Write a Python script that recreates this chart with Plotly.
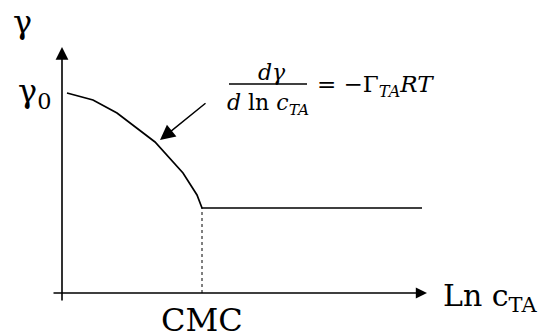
import plotly.graph_objects as go

# surface tension vs ln c (arbitrary units)
curve_lnc = [0.25, 1.55, 2.75, 4.65, 6.05, 6.75, 7.0, 18.0]
curve_gamma = [10.0, 9.65, 9.0, 7.55, 6.0, 4.9, 4.25, 4.25]
cmc_lnc = 7.0
cmc_gamma = 4.25
gamma0 = 10.0

x_axis_end = 18.25
y_axis_end = 12.3

SERIF = "DejaVu Serif"

fig = go.Figure()

# main curve: falling part then plateau after CMC
fig.add_trace(go.Scatter(
    x=curve_lnc, y=curve_gamma, mode="lines",
    line=dict(color="black", width=1.7), showlegend=False, hoverinfo="skip"))

# dotted drop line at the CMC
fig.add_trace(go.Scatter(
    x=[cmc_lnc, cmc_lnc], y=[0, cmc_gamma], mode="lines",
    line=dict(color="black", width=1, dash="dot"), showlegend=False, hoverinfo="skip"))

# axes drawn as arrows
fig.add_annotation(x=0, y=y_axis_end, ax=0, ay=-0.45, xref="x", yref="y",
                   axref="x", ayref="y", showarrow=True, arrowhead=2,
                   arrowwidth=1.6, arrowsize=1.6, arrowcolor="black", text="")
fig.add_annotation(x=x_axis_end, y=0, ax=-0.5, ay=0, xref="x", yref="y",
                   axref="x", ayref="y", showarrow=True, arrowhead=2,
                   arrowwidth=1.6, arrowsize=1.4, arrowcolor="black", text="")

# pointer to the slope
fig.add_annotation(x=4.9, y=7.65, ax=7.25, ay=9.55, xref="x", yref="y",
                   axref="x", ayref="y", showarrow=True, arrowhead=2,
                   arrowwidth=1.5, arrowsize=2.0, arrowcolor="black", text="")

# labels
big = dict(family=SERIF, size=32, color="black")
fig.add_annotation(x=-2.0, y=13.55, text="γ", showarrow=False, font=big,
                   xanchor="center", yanchor="middle")
fig.add_annotation(x=-0.45, y=gamma0, text="γ<sub>0</sub>", showarrow=False,
                   font=big, xanchor="right", yanchor="middle")
fig.add_annotation(x=cmc_lnc, y=-0.3, text="CMC", showarrow=False, font=big,
                   xanchor="center", yanchor="top")
fig.add_annotation(x=18.95, y=-0.2, text="Ln c<sub>TA</sub>", showarrow=False,
                   font=dict(family=SERIF, size=30, color="black"),
                   xanchor="left", yanchor="middle")

# Gibbs relation as a hand-built fraction
eq = dict(family=SERIF, size=22, color="black")
fig.add_annotation(x=10.5, y=11.05, text="<i>dγ</i>", showarrow=False, font=eq,
                   xanchor="center", yanchor="middle")
fig.add_annotation(x=10.3, y=9.45, text="<i>d</i> ln <i>c<sub>TA</sub></i>",
                   showarrow=False, font=eq, xanchor="center", yanchor="middle")
fig.add_shape(type="line", x0=8.35, x1=12.25, y0=10.45, y1=10.45,
              line=dict(color="black", width=1.5))
fig.add_annotation(x=12.65, y=10.35, text="= −Γ<i><sub>TA</sub>RT</i>",
                   showarrow=False, font=dict(family=SERIF, size=23, color="black"),
                   xanchor="left", yanchor="middle")

# page body margin shifts the figure by 8px, ranges compensate
fig.update_xaxes(range=[-2.7, 24.6], visible=False)
fig.update_yaxes(range=[-2.4, 14.25], visible=False)

fig.update_layout(
    width=546, height=333,
    margin=dict(l=0, r=0, t=0, b=0),
    plot_bgcolor="white", paper_bgcolor="white",
    font=dict(family=SERIF),
    showlegend=False,
)

fig.write_html("out.html")
